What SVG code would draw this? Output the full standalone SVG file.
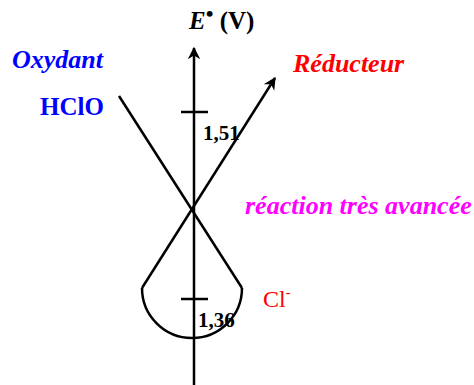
<svg xmlns="http://www.w3.org/2000/svg" width="474" height="385" viewBox="0 0 474 385">
<style>
.ln{stroke:#000;stroke-width:2.5;fill:none}
.t{font-family:"Liberation Serif",serif;font-weight:bold}
</style>
<defs>
<marker id="ah" viewBox="0 0 10 10" refX="9" refY="5" markerWidth="5" markerHeight="6" orient="auto" markerUnits="strokeWidth">
<path d="M0,0 L10,5 L0,10 L3,5 Z" fill="#000"/>
</marker>
</defs>
<rect width="474" height="385" fill="#fff"/>
<g id="connectors">
<line id="axis" class="ln" x1="194" y1="385" x2="194" y2="48" marker-end="url(#ah)"/>
<line id="ox-line" class="ln" x1="119" y1="96" x2="242" y2="288"/>
<line id="red-line" class="ln" x1="142" y1="288" x2="275" y2="78" marker-end="url(#ah)"/>
<path id="arc" class="ln" d="M142,288 A50,50 0 0 0 242,288"/>
<line id="tick1" class="ln" x1="181" y1="112" x2="208" y2="112"/>
<line id="tick2" class="ln" x1="181" y1="299" x2="208" y2="299"/>
</g>
<g id="axis-label"><text class="t" x="189" y="29" font-size="25"><tspan font-style="italic">E</tspan><tspan font-size="22" dy="-8">•</tspan><tspan dy="8"> (V)</tspan></text></g>
<g id="oxydant"><text class="t" x="12" y="68" font-size="26" font-style="italic" fill="#0000ff">Oxydant</text></g>
<g id="hclo"><text class="t" x="40" y="115" font-size="25" fill="#0000ff">HClO</text></g>
<g id="reducteur"><text class="t" x="293" y="72" font-size="26" font-style="italic" fill="#ff0000">Réducteur</text></g>
<g id="v151"><text class="t" x="203" y="140" font-size="21">1,51</text></g>
<g id="v136"><text class="t" x="198" y="327" font-size="21">1,36</text></g>
<g id="reaction"><text class="t" x="245" y="214" font-size="26" font-style="italic" fill="#ff00ff">réaction très avancée</text></g>
<g id="cl"><text x="263" y="307" font-family="Liberation Serif,serif" font-size="24" fill="#ff0000">Cl<tspan font-size="14" dy="-10">-</tspan></text></g>
</svg>
